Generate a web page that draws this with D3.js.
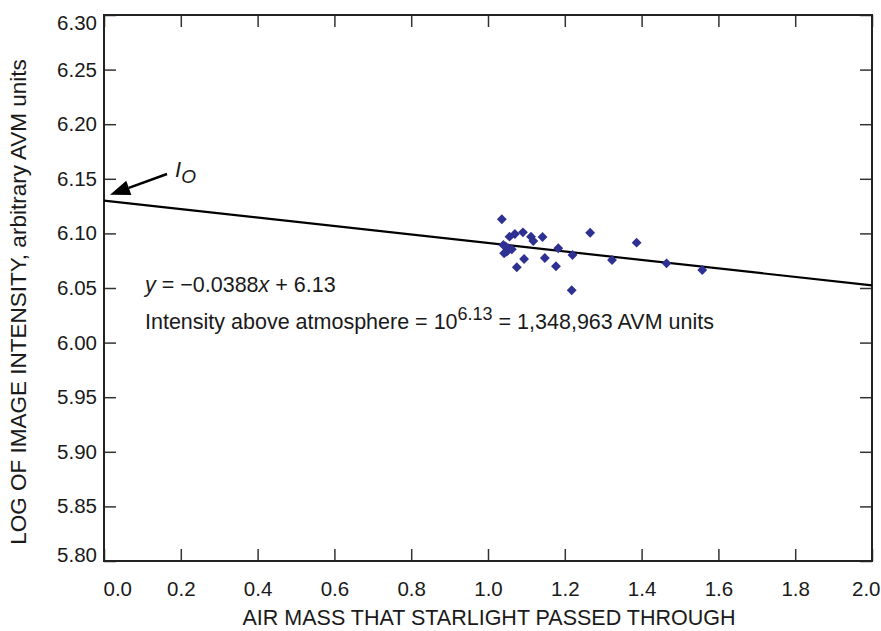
<!DOCTYPE html>
<html><head><meta charset="utf-8">
<script src="https://cdn.jsdelivr.net/npm/d3@7/dist/d3.min.js"></script>
<style>body{margin:0;background:#fff}svg{display:block}text{font-family:"Liberation Sans",Arial,sans-serif;fill:#1a1a1a}</style>
</head><body>
<script>
const airMass = [1.036,1.056,1.070,1.091,1.112,1.118,1.142,1.266,1.387,1.183,1.220,1.323,1.465,1.558,1.218,1.177,1.148,1.094,1.075,1.040,1.053,1.042,1.049,1.062,1.046];
const logIntensity = [6.113,6.097,6.0995,6.101,6.097,6.093,6.0967,6.1006,6.0915,6.0864,6.0802,6.0756,6.0726,6.0665,6.0479,6.0699,6.0775,6.0766,6.069,6.0894,6.0864,6.0818,6.0833,6.0854,6.0880];
const slope = -0.0388, intercept = 6.13;
const xTicks = [0,0.2,0.4,0.6,0.8,1.0,1.2,1.4,1.6,1.8,2.0];
const yTicks = [5.80,5.85,5.90,5.95,6.00,6.05,6.10,6.15,6.20,6.25,6.30];

const W=881,H=631, L=104,R=872,T=15,B=561;
const svg=d3.select("body").append("svg").attr("width",W).attr("height",H);
const x=d3.scaleLinear().domain([0,2]).range([L,R]);
const y=d3.scaleLinear().domain([5.8,6.3]).range([B,T]);
const fs=20.5, tk=12;

const gx=svg.append("g").attr("transform",`translate(0,${B})`)
 .call(d3.axisBottom(x).tickValues(xTicks).tickFormat(d3.format(".1f")).tickSizeInner(-tk).tickSizeOuter(0).tickPadding(tk+8));
const gy=svg.append("g").attr("transform",`translate(${L},0)`)
 .call(d3.axisLeft(y).tickValues(yTicks).tickFormat(d3.format(".2f")).tickSizeInner(-tk).tickSizeOuter(0).tickPadding(7));
const gt=svg.append("g").attr("transform",`translate(0,${T})`)
 .call(d3.axisTop(x).tickValues(xTicks).tickFormat("").tickSizeInner(-tk).tickSizeOuter(0));
const gr=svg.append("g").attr("transform",`translate(${R},0)`)
 .call(d3.axisRight(y).tickValues(yTicks).tickFormat("").tickSizeInner(-tk).tickSizeOuter(0));
[gx,gy,gt,gr].forEach(g=>{g.selectAll(".domain").remove();g.selectAll("line").attr("stroke","#333").attr("stroke-width",1.5);g.selectAll("text").attr("font-size",fs).attr("font-family","Liberation Sans, Arial, sans-serif").attr("fill","#1a1a1a");});
// edge labels nudged inward as in the reference
gx.selectAll(".tick").filter(d=>d===2).select("text").attr("text-anchor","end").attr("x",8);
gx.selectAll(".tick").filter(d=>d===0).select("text").attr("text-anchor","start").attr("x",-1);
gy.selectAll(".tick").filter(d=>Math.abs(d-6.3)<1e-9).select("text").attr("dy","0.73em");
gy.selectAll(".tick").filter(d=>Math.abs(d-5.8)<1e-9).select("text").attr("dy","0.0em");
svg.append("rect").attr("x",L).attr("y",T).attr("width",R-L).attr("height",B-T).attr("fill","none").attr("stroke","#222").attr("stroke-width",2);

// regression line
svg.append("line").attr("x1",x(0)).attr("y1",y(intercept)).attr("x2",x(2)).attr("y2",y(intercept+slope*2)).attr("stroke","#000").attr("stroke-width",2.2);

// points
svg.append("g").selectAll("path").data(airMass.map((a,i)=>[a,logIntensity[i]])).join("path")
 .attr("d",d3.symbol(d3.symbolDiamond2,62)).attr("transform",d=>`translate(${x(d[0])},${y(d[1])})`).attr("fill","#2e3192");

// arrow pointing at the intercept
const tip=[x(0)+6,y(intercept)-6], tail=[167,174];
const dx=tip[0]-tail[0], dy=tip[1]-tail[1], len=Math.hypot(dx,dy), ux=dx/len, uy=dy/len;
const hl=20, hw=7.5, bx=tip[0]-hl*ux, by=tip[1]-hl*uy;
svg.append("line").attr("x1",tail[0]).attr("y1",tail[1]).attr("x2",bx).attr("y2",by).attr("stroke","#000").attr("stroke-width",2.5);
svg.append("path").attr("d",`M${tip[0]},${tip[1]}L${bx-hw*uy},${by+hw*ux}L${bx+hw*uy},${by-hw*ux}Z`).attr("fill","#000");
const io=svg.append("text").attr("x",175).attr("y",177).attr("font-size",22).attr("font-style","italic");
io.append("tspan").text("I");
io.append("tspan").attr("dy",6).attr("font-size",19).text("O");

// equations
const fe=21.5;
const eq=svg.append("text").attr("x",145).attr("y",292).attr("font-size",fe);
eq.append("tspan").attr("font-style","italic").text("y");
eq.append("tspan").text(" = \u22120.0388");
eq.append("tspan").attr("font-style","italic").text("x");
eq.append("tspan").text(" + 6.13");
const t2=svg.append("text").attr("x",145).attr("y",329).attr("font-size",fe);
t2.append("tspan").text("Intensity above atmosphere = 10");
t2.append("tspan").attr("dy",-9).attr("font-size",18).text("6.13");
t2.append("tspan").attr("dy",9).text(" = 1,348,963 AVM units");

// axis titles
svg.append("text").attr("x",489).attr("y",625).attr("text-anchor","middle").attr("font-size",21.5).text("AIR MASS THAT STARLIGHT PASSED THROUGH");
svg.append("text").attr("transform",`translate(26,302) rotate(-90)`).attr("text-anchor","middle").attr("font-size",22.5).text("LOG OF IMAGE INTENSITY, arbitrary AVM units");
</script>
</body></html>
